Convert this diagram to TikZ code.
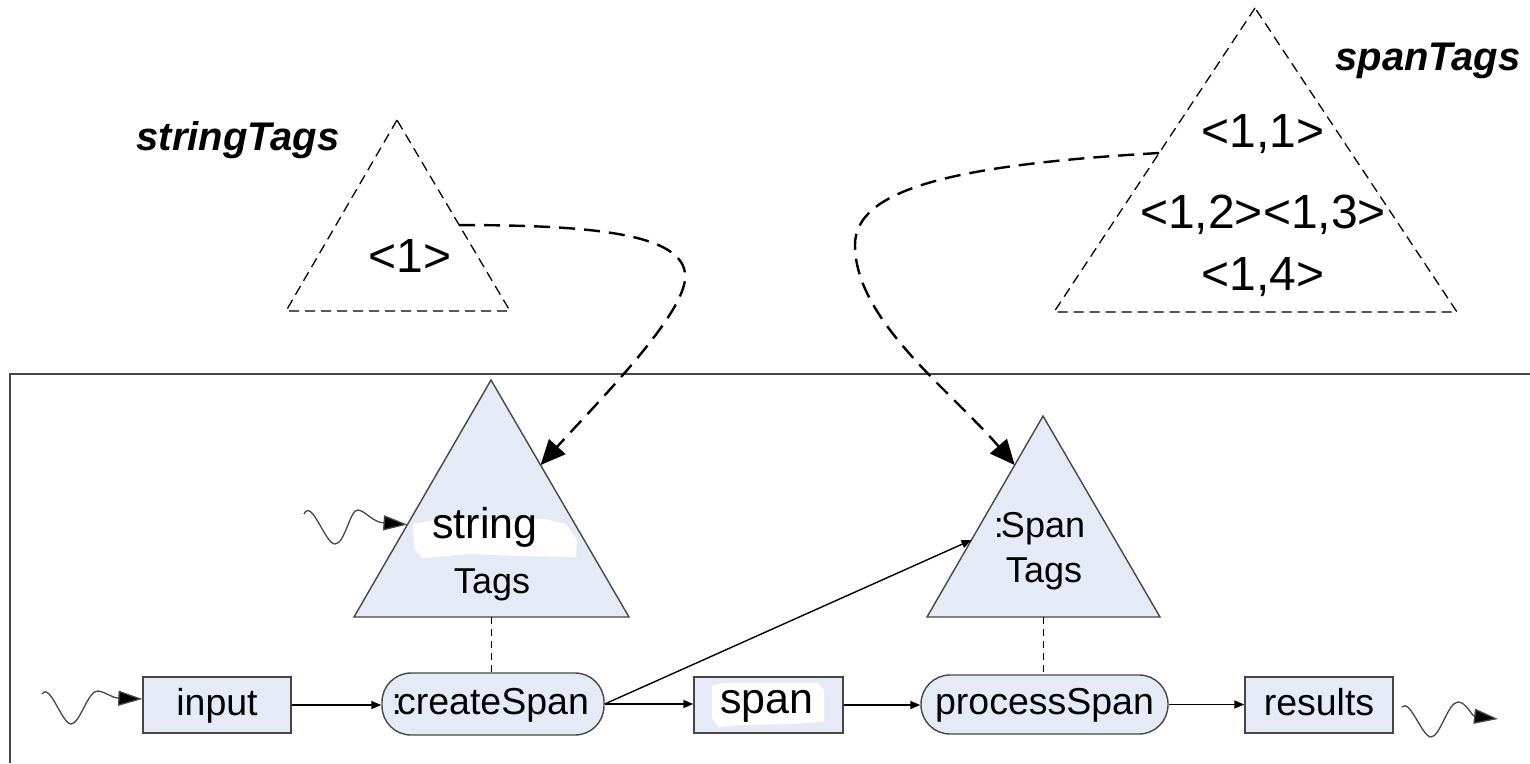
\documentclass[tikz,border=0pt]{standalone}
\usepackage{fontspec}
\setmainfont{Liberation Sans}
\usetikzlibrary{arrows.meta,calc}
\definecolor{tagfill}{RGB}{228,235,247}
\definecolor{edge}{RGB}{70,70,70}

\begin{document}
\begin{tikzpicture}[x=1pt,y=-1pt,
  fs/.style={font=\fontsize{#1}{#1}\selectfont},
  box/.style={draw=edge, line width=1.4pt, fill=tagfill, inner sep=0pt, fs=37.5,
              text height=28pt, text depth=8pt},
  pill/.style={box, rounded corners=29pt},
  flow/.style={line width=1.4pt, -{Triangle[length=10pt,width=8pt]}},
  wave/.style={line width=1.3pt, draw=edge, -{Triangle[length=24pt,width=15pt,fill=black]}},
  tagtri/.style={draw=edge, line width=1.4pt, fill=tagfill},
  sketchtri/.style={draw, line width=1.3pt, dash pattern=on 10pt off 6pt},
  link/.style={line width=2.4pt, dash pattern=on 16pt off 9pt, -{Triangle[length=25pt,width=22pt]}},
  tie/.style={line width=1.4pt, dash pattern=on 7pt off 5pt},
  tagname/.style={font=\fontsize{40}{40}\selectfont\bfseries\itshape, anchor=base, inner sep=0pt},
  valtext/.style={fs=48, anchor=base, inner sep=0pt},
  intext/.style={anchor=base, inner sep=0pt},
]
\useasboundingbox (0,0) rectangle (1530,763);

% frame of the running program
\draw[draw=edge, line width=1.6pt] (10,763) -- (10,374) -- (1530,374);

% collection contents (dashed sketches)
\coordinate (uA) at (397,120);
\coordinate (uL) at (286,311);
\coordinate (uR) at (510,311);
\draw[sketchtri] (uA) -- (uL) -- (uR) -- cycle;
\node[tagname] (lblS) at (238,150) {stringTags};
\node[valtext] (v1) at (410,272) {<1>};

\coordinate (vA) at (1255,8);
\coordinate (vL) at (1054,312);
\coordinate (vR) at (1457,312);
\draw[sketchtri] (vA) -- (vL) -- (vR) -- cycle;
\node[tagname] (lblP) at (1428,70) {spanTags};
\node[valtext] (v11) at (1263,147) {<1,1>};
\node[valtext] (v123) at (1263,228) {<1,2><1,3>};
\node[valtext] (v14) at (1263,290) {<1,4>};

% tag collections
\coordinate (sA) at (491,380);
\coordinate (sL) at (354,617);
\coordinate (sR) at (629,617);
\coordinate (sB) at (491.5,617);
\draw[tagtri] (sA) -- (sL) -- (sR) -- cycle;
\fill[white] (413,524) -- (440,519) -- (545,519) -- (566,524) -- (577,540) -- (576,557)
  -- (520,556) -- (470,554) -- (422,558) -- (414,548) -- cycle;
\node[intext, fs=43] (strTxt) at (485,538) {string};
\node[intext, fs=36] (strTags) at (492,593) {Tags};

\coordinate (pA) at (1043,416);
\coordinate (pL) at (927,617);
\coordinate (pR) at (1160,617);
\coordinate (pB) at (1043.5,617);
\draw[tagtri] (pA) -- (pL) -- (pR) -- cycle;
\node[intext, fs=36] (spTxt) at (1043,537) {\llap{:\kern-3pt}Span};
\node[intext, fs=36] (spTags) at (1044,582) {Tags};

% items and steps
\node[box, minimum width=148pt, minimum height=56pt] (input) at (217,705) {input};
\node[pill, minimum width=222pt, minimum height=62pt] (create) at (493,704) {\llap{:\kern-5pt}createSpan};
\node[box, minimum width=149pt, minimum height=56pt] (span) at (768.5,705) {};
\fill[white] (712,686) -- (722,683) -- (818,683) -- (824,690) -- (824,722) -- (790,724)
  -- (740,725) -- (718,727) -- (712,718) -- cycle;
\node[intext, fs=43] (spanTxt) at (767,713) {span};
\node[pill, minimum width=247pt, minimum height=59pt] (process) at (1044.5,704.5) {processSpan};
\node[box, minimum width=148pt, minimum height=56pt] (results) at (1319,705) {results};

% hit points on the triangle sides
\coordinate (sHitL) at ($(sA)!0.61!(sL)$);
\coordinate (sHitR) at ($(sA)!0.359!(sR)$);
\coordinate (pHitL) at ($(pA)!0.617!(pL)$);
\coordinate (pHitTop) at ($(pA)!0.244!(pL)$);
\coordinate (uHit) at ($(uA)!0.55!(uR)$);
\coordinate (vHit) at ($(vA)!0.477!(vL)$);

% data flow
\draw[flow] (input.east) -- (create.west |- input.east);
\draw[flow] (create.east) -- (span.west |- create.east);
\draw[flow] (create.east) -- (pHitL);
\draw[flow] (span.east) -- (process.west |- span.east);
\draw[flow] (process.east) -- (results.west |- process.east);

% prescriptions
\draw[tie] (sB) -- (sB |- create.north);
\draw[tie] (pB) -- (pB |- process.north);

% environment inputs and outputs
\coordinate (inWave) at (42,694);
\draw[wave] (inWave) .. controls (50,682) and (62,724) .. (71,724)
  .. controls (80,724) and (88,690) .. (98,691)
  .. controls (106,692) and (112,698) .. ([yshift=6pt]input.west);
\coordinate (tagWave) at (304,514);
\draw[wave] (tagWave) .. controls (312,498) and (325,544) .. (335,544)
  .. controls (345,544) and (350,509) .. (358,510)
  .. controls (366,511) and (372,522) .. (sHitL);
\coordinate (outEnd) at (1498,719);
\draw[wave] ([xshift=8pt,yshift=-2pt]results.east) .. controls (1410,698) and (1422,737) .. (1431,737)
  .. controls (1440,737) and (1448,702) .. (1458,702)
  .. controls (1466,702) and (1472,716) .. (outEnd);

% contents belong to collections
\draw[link] (uHit) .. controls (600,225) and (690,235) .. (685,280)
  .. controls (680,320) and (595,405) .. (sHitR);
\draw[link] (vHit) .. controls (950,165) and (855,190) .. (855,245)
  .. controls (855,320) and (950,390) .. (pHitTop);
\end{tikzpicture}
\end{document}
